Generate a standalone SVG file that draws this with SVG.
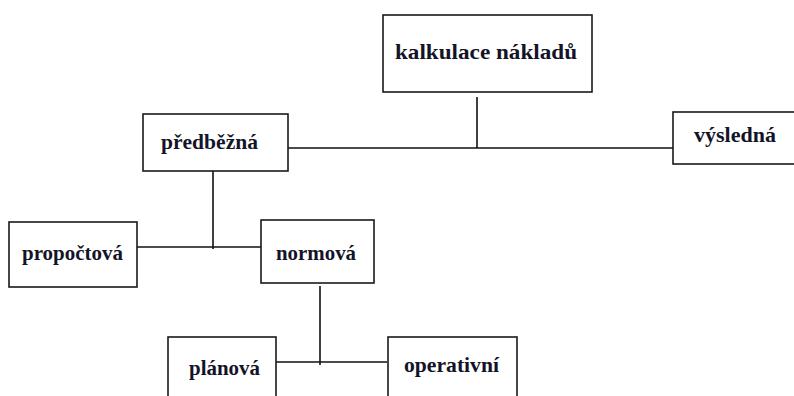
<svg xmlns="http://www.w3.org/2000/svg" width="794" height="396" viewBox="0 0 794 396">
<style>
.box{fill:#fff;stroke:#1a1a1a;stroke-width:1.6}
.lbl{font-family:"Liberation Serif","Times New Roman",serif;font-weight:bold;font-size:22px;fill:#141428}
.ln{stroke:#111;stroke-width:1.6;fill:none}
</style>
<rect width="794" height="396" fill="#fff"/>
<g id="connectors">
<line class="ln" x1="477" y1="97" x2="477" y2="148"/>
<line class="ln" x1="288" y1="148" x2="676" y2="148"/>
<line class="ln" x1="213" y1="171" x2="213" y2="249"/>
<line class="ln" x1="134" y1="247" x2="261" y2="247"/>
<line class="ln" x1="320" y1="286" x2="320" y2="365"/>
<line class="ln" x1="273" y1="362" x2="387" y2="362"/>
</g>
<g id="kalkulace">
<rect class="box" x="383" y="15" width="209" height="77"/>
<text class="lbl" x="395" y="59" textLength="182" lengthAdjust="spacingAndGlyphs">kalkulace nákladů</text>
</g>
<g id="predbezna">
<rect class="box" x="143" y="114" width="145" height="57"/>
<text class="lbl" x="161" y="149" textLength="97" lengthAdjust="spacingAndGlyphs">předběžná</text>
</g>
<g id="vysledna">
<rect class="box" x="673" y="112" width="140" height="52"/>
<text class="lbl" x="694" y="142" textLength="82" lengthAdjust="spacingAndGlyphs">výsledná</text>
</g>
<g id="propoctova">
<rect class="box" x="9" y="222" width="128" height="65"/>
<text class="lbl" x="22" y="260" textLength="101" lengthAdjust="spacingAndGlyphs">propočtová</text>
</g>
<g id="normova">
<rect class="box" x="261" y="220" width="113" height="63"/>
<text class="lbl" x="276" y="260" textLength="80" lengthAdjust="spacingAndGlyphs">normová</text>
</g>
<g id="planova">
<rect class="box" x="168" y="337" width="108" height="80"/>
<text class="lbl" x="189" y="375" textLength="71" lengthAdjust="spacingAndGlyphs">plánová</text>
</g>
<g id="operativni">
<rect class="box" x="388" y="337" width="129" height="80"/>
<text class="lbl" x="404" y="372" textLength="95" lengthAdjust="spacingAndGlyphs">operativní</text>
</g>
</svg>
